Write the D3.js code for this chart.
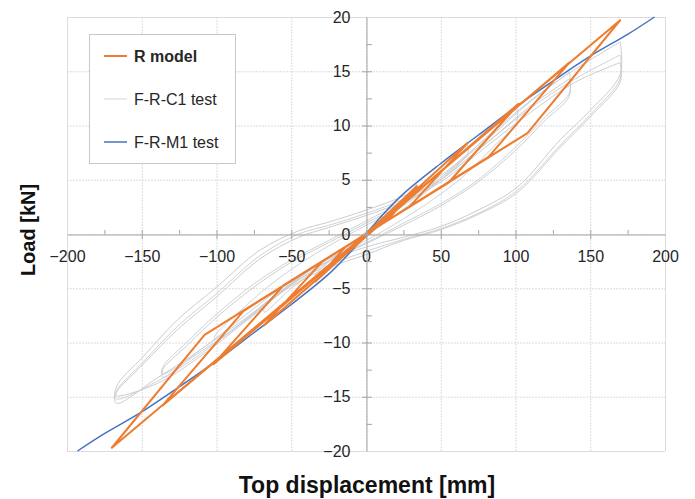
<!DOCTYPE html>
<html>
<head>
<meta charset="utf-8">
<script src="https://cdn.jsdelivr.net/npm/d3@7"></script>
<style>
  body { margin: 0; background: #fff; }
  svg { font-family: "Liberation Sans", Arial, sans-serif; }
</style>
</head>
<body>
<svg id="chart" width="695" height="499"></svg>
<script>
// ---- data ----
const xTicks = [-200, -150, -100, -50, 0, 50, 100, 150, 200];
const yTicks = [-20, -15, -10, -5, 0, 5, 10, 15, 20];

// R model (orange): peaks and pinching points per cycle
const modelPeakX = [34, 68, 102, 136, 170];
const modelPeakY = [4.4, 8.4, 12.0, 15.8, 19.7];
const modelPinchX = [14, 29, 55, 82, 108];
const modelPinchY = [1.2, 2.5, 4.7, 7.1, 9.3];

// F-R-M1 test (blue)
const m1X = [-193, -175, -150, -125, -100, -75, -50, -25, -10, 0, 10, 25, 50, 75, 100, 125, 150, 175, 193];
const m1Y = [-20, -18.4, -16.4, -14.1, -11.7, -9.1, -6.5, -3.7, -1.6, 0, 1.6, 3.7, 6.5, 9.1, 11.7, 14.1, 16.4, 18.4, 20];

// F-R-C1 test (gray) loops
const c1Loops = [
  [[170,17.7],[170,14.7],[150,11.4],[130,8.7],[101,4.3],[75,2.2],[50,0.7],[25,-0.3],[0,-1.2],[-25,-2.5],[-50,-4.3],[-80,-7.4],[-110,-10.6],[-140,-13.3],[-167,-15.6],
   [-167,-14.1],[-149,-11.3],[-126,-7.9],[-100,-4.9],[-71,-1.5],[-45,0.3],[-25,1.1],[0,2.2],[25,3.5],[50,5.4],[80,8.8],[110,12.3],[140,15.2],[170,17.7]],
  [[170,16.5],[170,14.3],[150,11.0],[130,8.2],[101,4.0],[75,1.9],[50,0.5],[25,-0.5],[0,-1.6],[-25,-2.9],[-50,-4.6],[-80,-7.8],[-110,-11.0],[-140,-13.6],[-167,-15.2],
   [-167,-14.5],[-149,-11.8],[-126,-8.5],[-100,-5.5],[-71,-2.0],[-45,0.0],[-25,0.8],[0,1.9],[25,3.2],[50,5.0],[80,8.3],[110,11.6],[140,14.3],[170,16.5]],
  [[170,15.8],[170,14.0],[150,10.8],[130,8.0],[101,3.8],[75,1.8],[50,0.4],[25,-0.6],[0,-1.9],[-25,-3.1],[-50,-4.8],[-80,-8.0],[-110,-11.2],[-140,-13.8],[-167,-14.9],
   [-167,-14.6],[-149,-12.0],[-126,-8.8],[-100,-5.8],[-71,-2.3],[-45,-0.3],[-25,0.6],[0,1.7],[25,3.0],[50,4.8],[80,8.0],[110,11.2],[140,14.0],[170,15.8]],
  [[136,14.9],[136,13.0],[120,10.8],[100,8.0],[75,5.0],[50,2.8],[25,1.0],[0,-0.8],[-25,-2.3],[-50,-4.5],[-80,-7.7],[-110,-10.6],[-136,-13.2],
   [-136,-12.3],[-120,-10.0],[-100,-7.4],[-75,-4.6],[-50,-2.4],[-25,-0.6],[0,1.2],[25,3.0],[50,5.2],[80,8.6],[110,12.2],[136,14.9]],
  [[136,14.3],[136,12.7],[120,10.5],[100,7.7],[75,4.8],[50,2.6],[25,0.8],[0,-0.9],[-25,-2.5],[-50,-4.7],[-80,-7.9],[-110,-10.8],[-136,-12.9],
   [-136,-12.5],[-120,-10.3],[-100,-7.7],[-75,-4.9],[-50,-2.6],[-25,-0.8],[0,1.0],[25,2.8],[50,5.0],[80,8.3],[110,11.8],[136,14.3]],
  [[101,11.6],[101,10.4],[85,8.0],[65,5.3],[45,3.2],[25,1.4],[0,-0.6],[-25,-2.2],[-50,-4.6],[-75,-7.3],[-101,-9.9],
   [-101,-9.4],[-85,-7.2],[-65,-4.8],[-45,-2.8],[-25,-1.1],[0,0.8],[25,2.6],[50,5.2],[75,8.2],[101,11.6]],
  [[68,8.2],[68,7.4],[50,5.0],[30,2.8],[10,0.8],[-10,-1.0],[-30,-3.0],[-50,-5.0],[-68,-7.2],
   [-68,-6.8],[-50,-4.6],[-30,-2.6],[-10,-0.8],[10,1.0],[30,3.3],[50,5.8],[68,8.2]],
  [[34,4.6],[34,4.1],[20,2.2],[0,-0.2],[-20,-2.2],[-34,-4.0],
   [-34,-3.8],[-20,-2.0],[0,0.2],[20,2.5],[34,4.6]]
];

// ---- layout ----
const svg = d3.select('#chart');
const x = d3.scaleLinear().domain([-200, 200]).range([67, 665]);
const y = d3.scaleLinear().domain([-20, 20]).range([451, 17]);

// grid
const grid = svg.append("g").attr("stroke", "#dcdcdc").attr("stroke-width", 1);
grid.selectAll("line.gx").data(xTicks).join("line")
    .attr("x1", d => x(d) + 0.5).attr("x2", d => x(d) + 0.5)
    .attr("y1", y(20)).attr("y2", y(-20))
    .attr("stroke-dasharray", d => (d === -200 || d === 200) ? null : "2,1");
grid.selectAll("line.gy").data(yTicks).join("line")
    .attr("y1", d => y(d) + 0.5).attr("y2", d => y(d) + 0.5)
    .attr("x1", x(-200)).attr("x2", x(200))
    .attr("stroke-dasharray", d => (d === -20 || d === 20) ? null : "2,1");

// series
const line = d3.line().x(d => x(d[0])).y(d => y(d[1]));
const smooth = d3.line().x(d => x(d[0])).y(d => y(d[1])).curve(d3.curveCatmullRom.alpha(0.5));

const gGray = svg.append("g").attr("fill", "none").attr("stroke-width", 1);
gGray.selectAll("path").data(c1Loops).join("path")
    .attr("stroke", (d, i) => i % 2 ? "#cbd3dc" : "#cdcdcd")
    .attr("d", smooth);

// build R model path from the peak / pinch arrays
const modelPts = [[0, 0]];
modelPeakX.forEach((px, i) => {
  modelPts.push([px, modelPeakY[i]]);
  modelPts.push([modelPinchX[i], modelPinchY[i]]);
  modelPts.push([-modelPinchX[i], -modelPinchY[i]]);
  modelPts.push([-px, -modelPeakY[i]]);
});
modelPts.push([0, 0]);

svg.append("path")
    .datum(m1X.map((v, i) => [v, m1Y[i]]))
    .attr("fill", "none").attr("stroke", "#4472c4").attr("stroke-width", 1.5)
    .attr("d", smooth);

svg.append("path")
    .datum(modelPts)
    .attr("fill", "none").attr("stroke", "#ed7d31").attr("stroke-width", 2)
    .attr("stroke-linejoin", "round")
    .attr("d", line);

// axes crossing at origin
const xAxis = d3.axisBottom(x).tickValues(xTicks).tickSize(0).tickPadding(16);
const yAxis = d3.axisLeft(y).tickValues(yTicks).tickSize(0).tickPadding(16);

const gx = svg.append("g").attr("transform", `translate(0,${y(0) + 0.5})`).call(xAxis);
const gy = svg.append("g").attr("transform", `translate(${x(0) + 0.5},0)`).call(yAxis);
[gx, gy].forEach(g => {
  g.select(".domain").attr("stroke", "#a6a6a6");
  g.selectAll("text").attr("font-size", 16).attr("fill", "#262626")
      .attr("font-family", "Liberation Sans, Arial, sans-serif");
});

// major (crossing) and minor ticks
const ticks = svg.append("g").attr("stroke", "#a6a6a6");
ticks.selectAll("line.mx").data(d3.range(-175, 200, 25)).join("line")
    .attr("x1", d => x(d) + 0.5).attr("x2", d => x(d) + 0.5)
    .attr("y1", d => y(0) - 4).attr("y2", d => d % 50 === 0 ? y(0) + 5 : y(0) + 0.5);
ticks.selectAll("line.my").data(d3.range(-17.5, 20, 2.5)).join("line")
    .attr("y1", d => y(d) + 0.5).attr("y2", d => y(d) + 0.5)
    .attr("x1", d => d % 5 === 0 ? x(0) - 4 : x(0) + 0.5).attr("x2", d => x(0) + 6);

// axis titles
svg.append("text")
    .attr("x", 367).attr("y", 493)
    .attr("text-anchor", "middle")
    .attr("font-size", 23).attr("font-weight", "bold").attr("fill", "#111")
    .text("Top displacement [mm]");
svg.append("text")
    .attr("transform", "translate(35,230) rotate(-90)")
    .attr("text-anchor", "middle")
    .attr("font-size", 20).attr("font-weight", "bold").attr("fill", "#111")
    .text("Load [kN]");

// legend
const legendItems = [
  { name: "R model", color: "#ed7d31", width: 2, bold: true },
  { name: "F-R-C1 test", color: "#e3e3e3", width: 1.5, bold: false },
  { name: "F-R-M1 test", color: "#4472c4", width: 1.5, bold: false }
];
const legend = svg.append("g");
legend.append("rect")
    .attr("x", 89.5).attr("y", 34.5).attr("width", 146).attr("height", 129)
    .attr("fill", "#fff").attr("stroke", "#c8c8c8");
const li = legend.selectAll("g").data(legendItems).join("g")
    .attr("transform", (d, i) => `translate(0,${56 + i * 43})`);
li.append("line")
    .attr("x1", 104).attr("x2", 127)
    .attr("stroke", d => d.color).attr("stroke-width", d => d.width);
li.append("text")
    .attr("x", 134).attr("dy", "0.35em")
    .attr("font-size", 16).attr("fill", "#262626")
    .attr("font-weight", d => d.bold ? "bold" : "normal")
    .text(d => d.name);
</script>
</body>
</html>
